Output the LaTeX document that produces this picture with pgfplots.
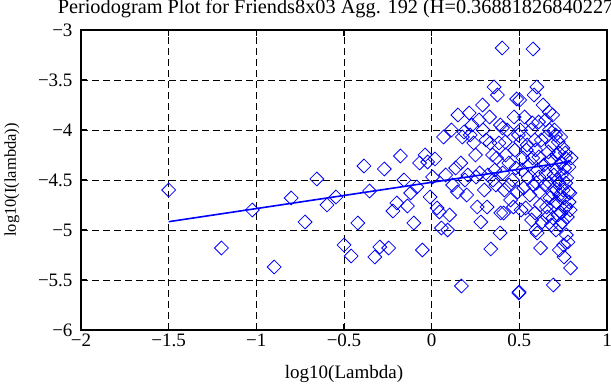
\documentclass[border=0pt]{standalone}
\usepackage{fontspec}
\setmainfont{Liberation Serif}
\usepackage{pgfplots}
\pgfplotsset{compat=1.18}
\definecolor{mblue}{RGB}{0,0,255}
\pgfplotstableread{
x y
-1.500 -4.60
-1.199 -5.18
-1.023 -4.80
-0.898 -5.37
-0.801 -4.68
-0.722 -4.92
-0.655 -4.49
-0.597 -4.75
-0.546 -4.67
-0.500 -5.15
-0.459 -5.26
-0.421 -4.93
-0.386 -4.36
-0.354 -4.61
-0.324 -5.27
-0.296 -5.17
-0.270 -4.39
-0.245 -5.18
-0.221 -4.81
-0.199 -4.73
-0.178 -4.26
-0.158 -4.50
-0.138 -4.76
-0.120 -4.63
-0.102 -4.93
-0.085 -4.57
-0.069 -4.33
-0.053 -5.20
-0.038 -4.25
-0.023 -4.32
-0.009 -4.67
0.005 -4.47
0.019 -4.29
0.031 -4.78
0.044 -4.82
0.056 -4.98
0.068 -4.07
0.080 -4.45
0.091 -5.00
0.102 -4.85
0.113 -4.00
0.120 -4.55
0.137 -4.38
0.147 -4.62
0.150 -3.85
0.166 -4.33
0.170 -5.56
0.175 -4.07
0.185 -4.02
0.190 -4.50
0.200 -4.65
0.206 -4.45
0.214 -3.83
0.220 -4.05
0.230 -3.95
0.240 -4.13
0.250 -4.25
0.253 -4.47
0.260 -4.77
0.270 -3.90
0.273 -4.43
0.280 -4.92
0.290 -3.75
0.293 -4.00
0.300 -4.60
0.310 -4.10
0.316 -4.77
0.320 -4.45
0.330 -3.87
0.333 -4.13
0.337 -5.19
0.347 -4.25
0.350 -4.50
0.356 -3.57
0.360 -4.40
0.366 -4.55
0.370 -4.28
0.375 -3.65
0.384 -4.13
0.390 -5.03
0.392 -3.95
0.394 -4.83
0.402 -3.18
0.404 -3.98
0.405 -4.43
0.410 -4.83
0.415 -4.60
0.420 -4.12
0.422 -4.25
0.430 -4.00
0.440 -4.33
0.442 -4.55
0.450 -4.70
0.460 -4.50
0.466 -4.77
0.470 -3.87
0.475 -4.20
0.480 -4.38
0.485 -3.69
0.490 -4.62
0.495 -4.05
0.497 -5.63
0.499 -5.62
0.502 -3.70
0.505 -4.00
0.508 -4.12
0.510 -4.80
0.516 -4.40
0.520 -4.28
0.525 -4.58
0.530 -3.87
0.536 -4.78
0.540 -4.20
0.545 -4.15
0.550 -4.48
0.555 -4.35
0.560 -4.65
0.566 -4.00
0.570 -4.90
0.575 -3.93
0.576 -4.28
0.578 -3.19
0.580 -4.55
0.584 -3.65
0.588 -4.10
0.590 -4.83
0.593 -4.20
0.594 -5.00
0.597 -4.53
0.600 -3.57
0.602 -5.03
0.605 -4.40
0.610 -3.92
0.611 -4.27
0.612 -4.47
0.615 -4.62
0.620 -4.75
0.621 -5.18
0.625 -4.10
0.630 -4.92
0.635 -3.75
0.640 -4.35
0.645 -4.55
0.650 -3.90
0.651 -4.07
0.652 -4.43
0.655 -4.77
0.660 -4.87
0.665 -4.22
0.670 -3.82
0.671 -4.00
0.672 -4.53
0.675 -4.68
0.680 -4.30
0.683 -4.95
0.686 -4.15
0.690 -3.85
0.691 -4.63
0.692 -4.88
0.694 -5.55
0.697 -4.45
0.699 -4.75
0.700 -4.00
0.703 -4.58
0.707 -4.05
0.708 -4.40
0.709 -5.00
0.710 -4.72
0.713 -4.25
0.716 -4.50
0.720 -4.85
0.722 -4.12
0.726 -4.23
0.727 -4.53
0.728 -5.20
0.730 -4.65
0.733 -4.95
0.736 -4.07
0.737 -4.33
0.738 -4.83
0.740 -4.45
0.745 -4.92
0.748 -4.18
0.750 -4.60
0.752 -5.15
0.754 -4.68
0.755 -5.27
0.758 -4.38
0.760 -4.78
0.762 -4.23
0.764 -4.28
0.765 -4.53
0.766 -4.77
0.768 -5.05
0.770 -4.48
0.774 -4.87
0.777 -5.12
0.780 -4.62
0.783 -4.37
0.784 -4.72
0.788 -4.63
0.790 -4.80
0.792 -5.38
0.795 -4.28
}\pgdata
\begin{document}
\begin{tikzpicture}[font=\fontsize{19}{22}\selectfont]
\begin{axis}[
  width=526pt, height=300pt, scale only axis,
  xmin=-2, xmax=1, ymin=-6, ymax=-3,
  xtick={-2,-1.5,-1,-0.5,0,0.5,1},
  ytick={-6,-5.5,-5,-4.5,-4,-3.5,-3},
  xticklabels={−2,−1.5,−1,−0.5,0,0.5,1},
  yticklabels={−6,−5.5,−5,−4.5,−4,−3.5,−3},
  yticklabel style={xshift=-5pt},
  grid=major,
  grid style={black, line width=0.8pt, dash pattern=on 7pt off 4pt},
  axis line style={black, line width=1.3pt},
  tick style={black, line width=1.3pt},
  major tick length=6pt, tick align=inside,
  xlabel={log10(Lambda)},
  ylabel={log10(I(lambda))},
  title={Periodogram Plot for Friends8x03 Agg. 192 (H=0.368818268402275)},
  every axis x label/.style={at={(axis description cs:0.5,0)}, anchor=base, yshift=-49pt},
  every axis y label/.style={at={(axis description cs:0,0.5)}, anchor=base, rotate=90, yshift=65pt, font=\fontsize{16.5}{19}\selectfont},
  every axis title/.style={at={(axis description cs:0.5,1)}, anchor=base, yshift=16.5pt, font=\fontsize{20.3}{22}\selectfont},
]
\coordinate (bl) at (rel axis cs:0,0);
\coordinate (tr) at (rel axis cs:1,1);
\addplot[only marks, mark=square, mark size=4.9pt, mark options={rotate=45, mblue, line width=0.8pt, fill=none}] table[x=x, y=y] {\pgdata};
\addplot[mblue, line width=1.6pt] coordinates {(-1.500,-4.917) (0.796,-4.3145)};
\end{axis}
\pgfresetboundingbox
\path[use as bounding box] ([shift={(-81pt,-55pt)}]bl) rectangle ([shift={(4pt,30pt)}]tr);
\end{tikzpicture}
\end{document}
